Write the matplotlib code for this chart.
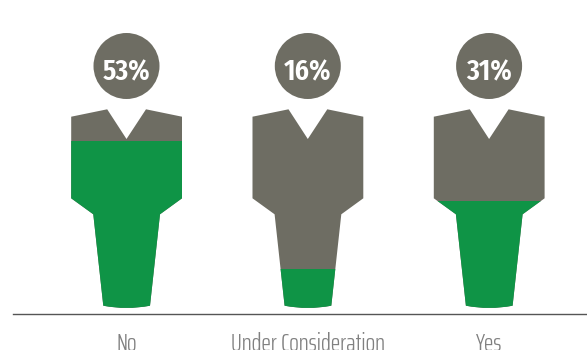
import numpy as np
import matplotlib
matplotlib.use("Agg")
import matplotlib.pyplot as plt
from matplotlib.patches import PathPatch, Circle
from matplotlib.path import Path
from matplotlib.ticker import NullLocator
from matplotlib.transforms import Affine2D

# Chart data
categories = ["No", "Under Consideration", "Yes"]
shares = [53, 16, 31]

GREY = "#6e6d63"
GREEN = "#0f9446"
W, H = 587, 350
LABEL_FONT = ["Saira ExtraCondensed", "Liberation Sans"]
VALUE_FONT = ["Fira Sans Extra Condensed", "Liberation Sans"]

fig = plt.figure(figsize=(W / 100, H / 100), dpi=100)
ax = fig.add_axes([13 / W, 1 - 314 / H, (W - 13) / W, 314 / H])

# The fill height follows a compressed scale of the share
OFFSET = 5
ax.set_yscale("function", functions=(lambda v: np.log(np.maximum(v + OFFSET, 1e-6)),
                                     lambda u: np.exp(u) - OFFSET))
ax.set_ylim(9.7, 172)
ax.set_xlim(-0.626, 2.54)

# Pixel-space transform (origin top left) for the person shape
px = Affine2D().scale(1 / W, -1 / H).translate(0, 1) + fig.transFigure


def person(cx):
    pts = [(-55.3, 116.7), (-19.3, 109.3), (0, 139), (19.5, 109.3), (55.5, 116.7),
           (55.5, 198.3), (33.5, 214.3), (23.5, 305.7), (0, 310.3), (-23.2, 305.7),
           (-33.2, 214.3), (-55.3, 198.3), (-55.3, 116.7)]
    codes = [Path.MOVETO] + [Path.LINETO] * 7 + [Path.CURVE3, Path.CURVE3] + [Path.LINETO] * 2 + [Path.CLOSEPOLY]
    return Path([(cx + dx, y) for dx, y in pts], codes)


centers = [ax.transData.transform((i, 20))[0] for i in range(len(categories))]
for i, (cx, value) in enumerate(zip(centers, shares)):
    shape = PathPatch(person(cx), transform=px, facecolor=GREY, edgecolor="none", zorder=2)
    ax.add_patch(shape)
    bar = ax.bar(i, value - 9.7, bottom=9.7, width=0.8, color=GREEN, linewidth=0, zorder=3)[0]
    bar.set_clip_path(shape)
    ax.add_patch(Circle((cx, 66), 33, transform=px, facecolor=GREY, edgecolor="none",
                        zorder=4, clip_on=False))
    ax.text(cx, 80.5, f"{value}%", transform=px, ha="center", va="baseline", color="white",
            fontsize=21.5, fontweight=600, family=VALUE_FONT, zorder=5, clip_on=False)

for side in ("top", "left", "right"):
    ax.spines[side].set_visible(False)
ax.spines["bottom"].set_color("#555555")
ax.spines["bottom"].set_linewidth(1.0)
ax.set_yticks([])
ax.yaxis.set_minor_locator(NullLocator())
ax.set_xticks(range(len(categories)), categories, family=LABEL_FONT, fontsize=18.5, fontweight=300,
              color="#808080")
ax.tick_params(axis="x", length=0, pad=13)

fig.savefig("out.png", dpi=100)
